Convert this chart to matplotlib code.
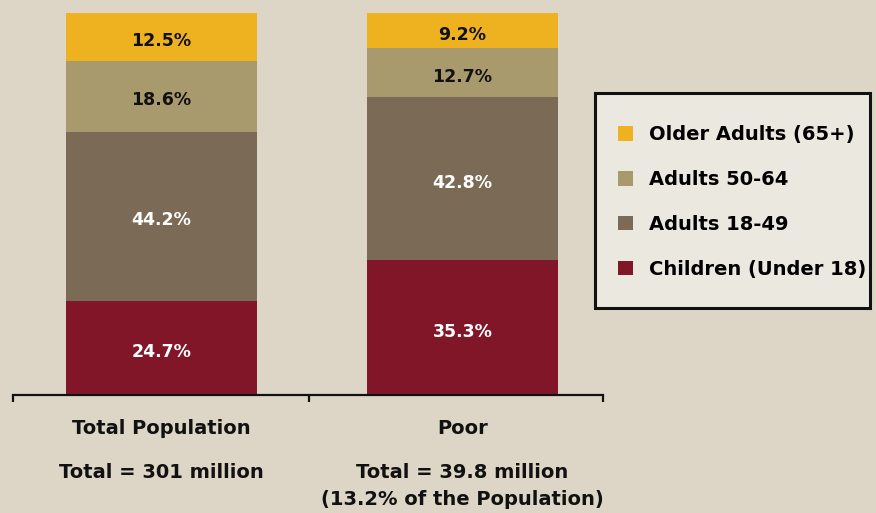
import matplotlib
matplotlib.use("Agg")
import matplotlib.pyplot as plt
from matplotlib.patches import Patch, Rectangle
from matplotlib.transforms import blended_transform_factory, offset_copy

# Share of each age group (percent), stacked bottom to top
groups = ["Total Population", "Poor"]
totals = ["Total = 301 million", "Total = 39.8 million\n(13.2% of the Population)"]
series_names = ["Children (Under 18)", "Adults 18-49", "Adults 50-64", "Older Adults (65+)"]
children = [24.7, 35.3]
adults_18_49 = [44.2, 42.8]
adults_50_64 = [18.6, 12.7]
older_adults = [12.5, 9.2]

colors = ["#801628", "#7b6a56", "#a89a6d", "#eeb220"]
text_colors = ["white", "white", "#111111", "#111111"]
bg = "#ddd6c7"
FONT = "DejaVu Sans"

fig = plt.figure(figsize=(8.76, 5.13), dpi=100, facecolor=bg)
W, H = 876, 513
ax = fig.add_axes([13 / W, 1 - 395 / H, (603 - 13) / W, (395 - 13) / H])
ax.set_facecolor(bg)

x = list(range(len(groups)))
stack = [children, adults_18_49, adults_50_64, older_adults]
label_trans = offset_copy(ax.transData, fig=fig, x=0, y=-3, units="points")
bottom = [0.0] * len(groups)
for vals, col, tcol in zip(stack, colors, text_colors):
    ax.bar(x, vals, width=0.635, bottom=bottom, color=col, linewidth=0)
    for xi, v, b in zip(x, vals, bottom):
        ax.text(xi, b + v / 2, f"{v:.1f}%", ha="center", va="center",
                color=tcol, fontsize=12.5, fontweight="bold", family=FONT,
                transform=label_trans)
    bottom = [b + v for b, v in zip(bottom, vals)]

ax.set_xlim(-0.493, 1.467)
ax.set_ylim(0, 100)
for s in ["top", "right", "left"]:
    ax.spines[s].set_visible(False)
ax.spines["bottom"].set_linewidth(1.6)
ax.spines["bottom"].set_color("#111111")
ax.set_yticks([])
ax.set_xticks([-0.493, 0.49, 1.467])
ax.set_xticklabels([])
ax.tick_params(axis="x", direction="out", length=5, width=1.6, color="#111111")

trans = blended_transform_factory(ax.transData, fig.transFigure)
for xi, g, t in zip(x, groups, totals):
    ax.text(xi, 1 - 429 / H, g, transform=trans, ha="center", va="center",
            fontsize=14, fontweight="bold", family=FONT, color="#111111")
    ax.text(xi, 1 - 463 / H, t, transform=trans, ha="center", va="top",
            fontsize=14, fontweight="bold", family=FONT, color="#111111",
            linespacing=1.55)

# Legend panel
fig.patches.append(Rectangle((595 / W, 1 - 308 / H), (870 - 595) / W, (308 - 93) / H,
                             transform=fig.transFigure, facecolor="#ebe8e0",
                             edgecolor="#111111", linewidth=2.2, zorder=0))
handles = [Patch(facecolor=c, edgecolor="none") for c in colors[::-1]]
fs = 14
fig.legend(handles, series_names[::-1], loc="center left",
           bbox_to_anchor=(618 / W, 1 - 202 / H), frameon=False,
           prop={"family": FONT, "weight": "bold", "size": fs},
           handlelength=0.78, handleheight=0.78, handletextpad=0.8,
           labelspacing=1.33, borderpad=0, borderaxespad=0)

fig.savefig("out.png", dpi=100, facecolor=bg)
